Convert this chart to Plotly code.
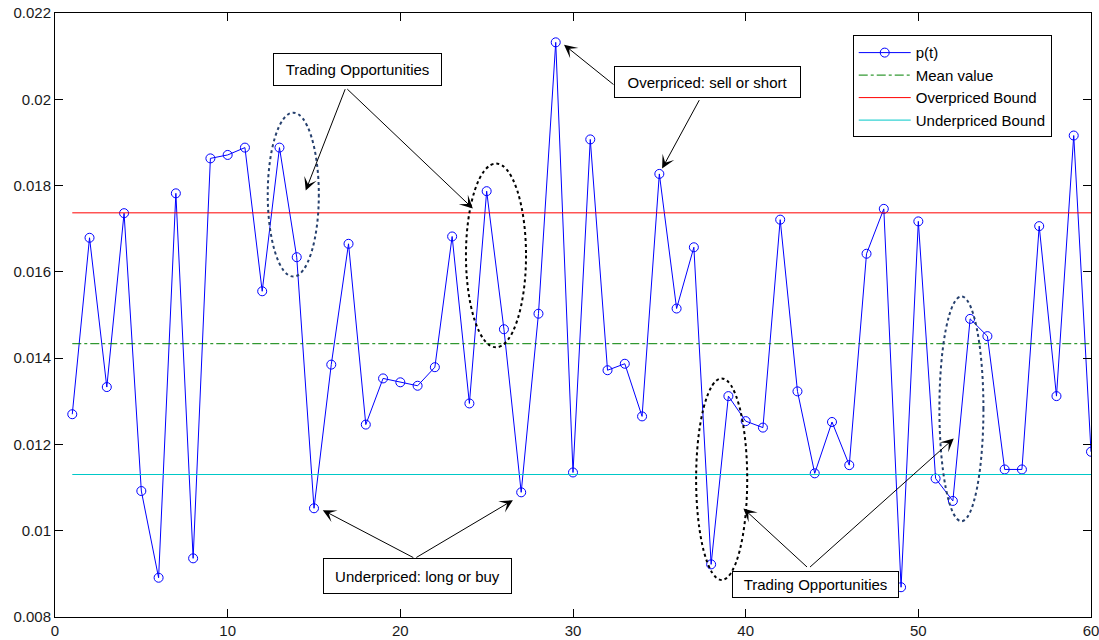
import plotly.graph_objects as go

# ---- data ----
t = list(range(1, 61))
p = [0.01270, 0.01679, 0.01333, 0.01736, 0.01092, 0.00891, 0.01782, 0.00936, 0.01863, 0.01871,
     0.01888, 0.01555, 0.01888, 0.01634, 0.01052, 0.01385, 0.01665, 0.01246, 0.01353, 0.01344,
     0.01336, 0.01379, 0.01682, 0.01295, 0.01787, 0.01467, 0.01089, 0.01503, 0.02132, 0.01135,
     0.01907, 0.01372, 0.01387, 0.01265, 0.01827, 0.01515, 0.01657, 0.00922, 0.01312, 0.01254,
     0.01239, 0.01721, 0.01323, 0.01133, 0.01252, 0.01152, 0.01642, 0.01746, 0.00869, 0.01717,
     0.01121, 0.01069, 0.01491, 0.01451, 0.01142, 0.01142, 0.01706, 0.01312, 0.01916, 0.01183]
mean_value = 0.014335
over_bound = 0.017368
under_bound = 0.011303
line_x = [1, 60]

x_ticks = [0, 10, 20, 30, 40, 50, 60]
y_ticks = [0.008, 0.010, 0.012, 0.014, 0.016, 0.018, 0.020, 0.022]
y_ticktext = ["0.008", "0.01", "0.012", "0.014", "0.016", "0.018", "0.02", "0.022"]

FONT = "Liberation Sans, Arial, sans-serif"

fig = go.Figure()
fig.add_trace(go.Scatter(x=t, y=p, mode="lines+markers", name="p(t)",
                         line=dict(color="#0000ff", width=1),
                         marker=dict(symbol="circle-open", size=9, color="#0000ff",
                                     line=dict(width=1, color="#0000ff"))))
fig.add_trace(go.Scatter(x=line_x, y=[mean_value] * 2, mode="lines", name="Mean value",
                         line=dict(color="#008000", width=1, dash="dashdot")))
fig.add_trace(go.Scatter(x=line_x, y=[over_bound] * 2, mode="lines", name="Overpriced Bound",
                         line=dict(color="#ff0000", width=1)))
fig.add_trace(go.Scatter(x=line_x, y=[under_bound] * 2, mode="lines", name="Underpriced Bound",
                         line=dict(color="#00c8c8", width=1)))

# dotted ellipses highlighting trading opportunities
ellipses = [
    (12.32, 15.28, 0.01589, 0.01969, "#26406e"),
    (23.80, 27.28, 0.01425, 0.01851, "#000000"),
    (37.13, 40.09, 0.00886, 0.01353, "#000000"),
    (51.22, 53.77, 0.01022, 0.01543, "#26406e"),
]
for x0, x1, y0, y1, c in ellipses:
    fig.add_shape(type="circle", xref="x", yref="y", x0=x0, x1=x1, y0=y0, y1=y1,
                  line=dict(color=c, width=2, dash="dot"))

# text boxes
boxes = [
    ("Trading Opportunities", 17.51, 0.020697, 169, 33),
    ("Overpriced: sell or short", 37.79, 0.020396, 187, 32),
    ("Underpriced: long or buy", 21.00, 0.008942, 189, 36),
    ("Trading Opportunities", 44.03, 0.008748, 167, 27),
]
# arrows: (tail x, tail y, head x, head y)
arrows = [
    (16.84, 0.020269, 14.52, 0.017884),
    (16.84, 0.020269, 24.20, 0.017468),
    (32.43, 0.020315, 29.48, 0.021264),
    (37.36, 0.020014, 35.16, 0.018394),
    (20.84, 0.009359, 15.51, 0.010477),
    (20.84, 0.009359, 26.52, 0.010708),
    (43.64, 0.009127, 39.87, 0.010516),
    (43.64, 0.009127, 52.05, 0.012137),
]
for tx, ty, hx, hy in arrows:
    fig.add_annotation(x=hx, y=hy, ax=tx, ay=ty, xref="x", yref="y", axref="x", ayref="y",
                       text="", showarrow=True, arrowhead=3, arrowsize=2.2, arrowwidth=1,
                       arrowcolor="#000000", standoff=0, startstandoff=0)
for txt, bx, by, w, h in boxes:
    fig.add_annotation(x=bx, y=by, xref="x", yref="y", text=txt, showarrow=False,
                       width=w - 2, height=h - 2, borderpad=0, bgcolor="#ffffff",
                       bordercolor="#000000", borderwidth=1,
                       font=dict(family=FONT, size=15, color="#000000"))

axis_common = dict(showline=True, linecolor="#000000", linewidth=1, mirror="ticks",
                   ticks="inside", ticklen=8, tickcolor="#000000", showgrid=False,
                   zeroline=False, automargin=False, ticklabeloverflow="allow",
                   tickfont=dict(family=FONT, size=15, color="#1a1a1a"))
fig.update_xaxes(range=[0, 60], tickvals=x_ticks, **axis_common)
fig.update_yaxes(range=[0.008, 0.022], tickvals=y_ticks, ticktext=y_ticktext, **axis_common)

fig.update_layout(
    width=1099, height=640, autosize=False,
    margin=dict(l=55, r=8, t=13, b=23, autoexpand=False),
    plot_bgcolor="#ffffff", paper_bgcolor="#ffffff",
    font=dict(family=FONT, size=15, color="#000000"),
    legend=dict(x=0.770, y=0.963, xanchor="left", yanchor="top",
                bgcolor="#ffffff", bordercolor="#000000", borderwidth=1,
                font=dict(family=FONT, size=15, color="#000000"),
                tracegroupgap=0, itemwidth=52),
    showlegend=True,
)

fig.write_html("out.html", config={"displayModeBar": False},
               post_script="document.body.style.margin='0';document.body.style.overflow='hidden';")
